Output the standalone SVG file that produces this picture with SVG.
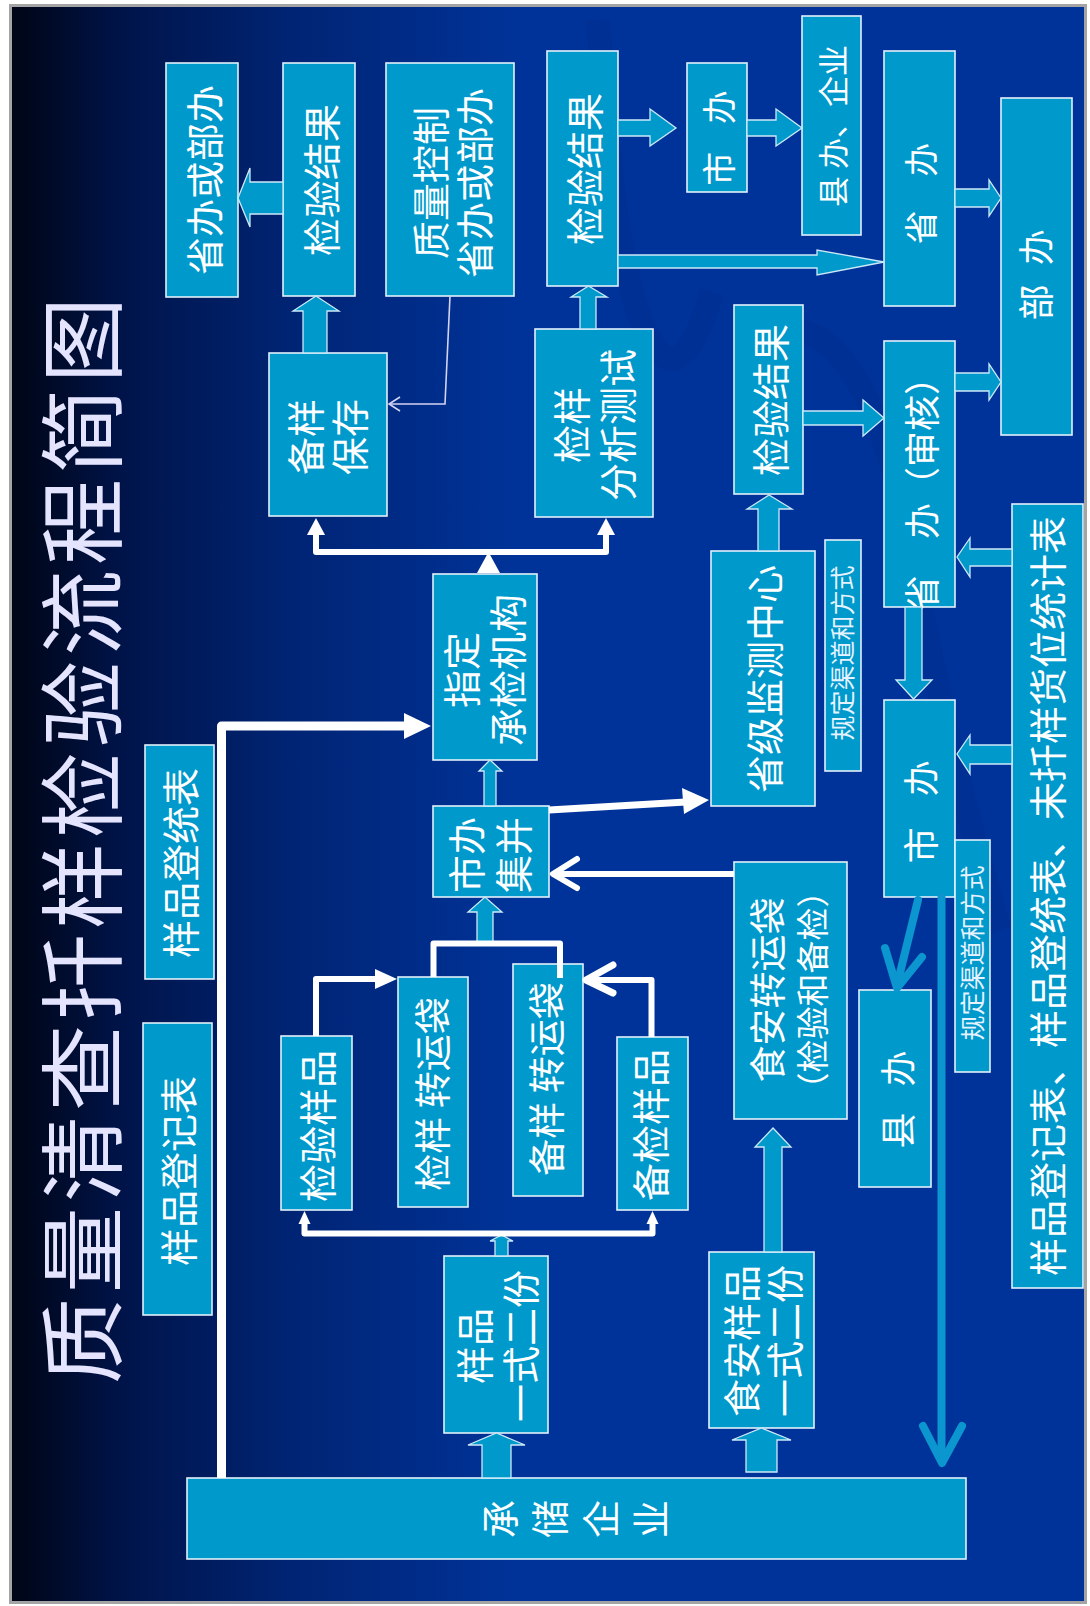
<svg xmlns="http://www.w3.org/2000/svg" width="1090" height="1606" viewBox="0 0 1090 1606">
<defs>
<linearGradient id="bg" gradientUnits="userSpaceOnUse" x1="11" y1="0" x2="520" y2="0">
<stop offset="0" stop-color="#000515"/>
<stop offset="0.22" stop-color="#00144a"/>
<stop offset="0.55" stop-color="#002474"/>
<stop offset="1" stop-color="#003399"/>
</linearGradient>
<style>
.box{fill:#0099cc;stroke:#e2f0fb;stroke-width:1.6}
.ba{fill:#0099cc;stroke:#cde9f7;stroke-width:1.3}
.t{font-family:"Noto Sans CJK SC","Noto Sans CJK JP",sans-serif;fill:#ffffff;text-anchor:middle;dominant-baseline:central;font-size:38px}
.w{fill:none;stroke:#ffffff;stroke-width:6;stroke-linejoin:round}
.wf{fill:#ffffff}
.bl{fill:none;stroke:#0c96cf;stroke-width:8;stroke-linecap:round;stroke-linejoin:round}
</style>
</defs>
<rect x="0" y="0" width="1090" height="1606" fill="#ffffff"/>
<rect x="10.5" y="5.5" width="1075" height="1597" fill="url(#bg)" stroke="#a4a4a4" stroke-width="3"/>
<g id="swoosh" fill="none" stroke="#002a88" stroke-width="24" opacity="0.3">
<path d="M598 20 C 608 170, 622 300, 655 348 C 678 378, 698 340, 712 292"/>
<path d="M790 330 C 840 330, 880 400, 905 520 C 930 660, 960 800, 1000 930"/>
</g>
<g id="title"><text class="t" transform="translate(77 838) rotate(-90)" style="font-size:86px;fill:#e4e4ff" letter-spacing="5">质量清查扦样检验流程简图</text></g>

<g id="n_shengbanhuobuban1"><rect class="box" x="166" y="63" width="72" height="234"/><text class="t" transform="translate(202 180) rotate(-90)">省办或部办</text></g>
<g id="n_jianyanjieguo_a"><rect class="box" x="283" y="63" width="72" height="233"/><text class="t" transform="translate(319 180) rotate(-90)">检验结果</text></g>
<g id="n_zhiliangkongzhi"><rect class="box" x="386" y="63" width="128" height="233"/><text class="t" transform="translate(450 183) rotate(-90)"><tspan x="0" y="-22">质量控制</tspan><tspan x="0" y="22">省办或部办</tspan></text></g>
<g id="n_jianyanjieguo_b"><rect class="box" x="547" y="51" width="71" height="235"/><text class="t" transform="translate(582.5 169) rotate(-90)">检验结果</text></g>
<g id="n_shiban_top"><rect class="box" x="687" y="63" width="60" height="129"/><text class="t" transform="translate(717 133) rotate(-90)" style="font-size:34px" letter-spacing="10">市 办</text></g>
<g id="n_xianban_qiye"><rect class="box" x="802" y="16" width="59" height="219"/><text class="t" transform="translate(831 126) rotate(-90)" style="font-size:31px">县 办、企业</text></g>
<g id="n_shengban_top"><rect class="box" x="884" y="51" width="71" height="255"/><text class="t" transform="translate(919.5 187) rotate(-90)" style="font-size:34px" letter-spacing="13">省 办</text></g>
<g id="n_buban"><rect class="box" x="1001" y="98" width="71" height="337"/><text class="t" transform="translate(1034 272) rotate(-90)" style="font-size:36px" letter-spacing="5.5">部 办</text></g>
<g id="n_jianyanjieguo_c"><rect class="box" x="734" y="305" width="69" height="189"/><text class="t" transform="translate(768.5 400) rotate(-90)">检验结果</text></g>
<g id="n_shengban_shenhe"><rect class="box" x="884" y="341" width="71" height="266"/><text class="t" transform="translate(919.5 485) rotate(-90)" style="font-size:36px">省　办（审核）</text></g>
<g id="n_jianyang_fenxi"><rect class="box" x="535" y="329" width="118" height="188"/><text class="t" transform="translate(592 425) rotate(-90)"><tspan x="0" y="-23">检样</tspan><tspan x="0" y="23">分析测试</tspan></text></g>
<g id="n_beiyang_baocun"><rect class="box" x="269" y="353" width="118" height="163"/><text class="t" transform="translate(325 437) rotate(-90)"><tspan x="0" y="-22">备样</tspan><tspan x="0" y="22">保存</tspan></text></g>
<g id="n_zhiding"><rect class="box" x="433" y="574" width="104" height="186"/><text class="t" transform="translate(482 670) rotate(-90)"><tspan x="0" y="-23">指定</tspan><tspan x="0" y="23">承检机构</tspan></text></g>
<g id="n_shiban_jibing"><rect class="box" x="433" y="806" width="116" height="91"/><text class="t" transform="translate(487 855) rotate(-90)"><tspan x="0" y="-23.5">市办</tspan><tspan x="0" y="23.5">集并</tspan></text></g>
<g id="n_shengji_jiance"><rect class="box" x="711" y="551" width="104" height="255"/><text class="t" transform="translate(762 679) rotate(-90)">省级监测中心</text></g>
<g id="n_guiding1"><rect class="box" x="825" y="540" width="36" height="231"/><text class="t" transform="translate(841 653) rotate(-90)" style="font-size:25px;fill:#e6f2ff">规定渠道和方式</text></g>
<g id="n_shiban_mid"><rect class="box" x="884" y="700" width="71" height="197"/><text class="t" transform="translate(919 806) rotate(-90)" style="font-size:36px" letter-spacing="11.5">市 办</text></g>
<g id="n_xianban"><rect class="box" x="859" y="990" width="72" height="197"/><text class="t" transform="translate(896 1095) rotate(-90)" style="font-size:36px" letter-spacing="9">县 办</text></g>
<g id="n_guiding2"><rect class="box" x="955" y="840" width="35" height="232"/><text class="t" transform="translate(971 953) rotate(-90)" style="font-size:25px;fill:#e6f2ff">规定渠道和方式</text></g>
<g id="n_biao"><rect class="box" x="1012" y="504" width="71" height="784"/><text class="t" transform="translate(1045 896) rotate(-90)">样品登记表、样品登统表、未扦样货位统计表</text></g>
<g id="n_shian_zhuanyundai"><rect class="box" x="734" y="862" width="113" height="257"/><text class="t" transform="translate(788.5 990) rotate(-90)"><tspan x="0" y="-22.5" style="font-size:37px">食安转运袋</tspan><tspan x="0" y="22.5" style="font-size:33px">（检验和备检）</tspan></text></g>
<g id="n_jianyan_yangpin"><rect class="box" x="281" y="1036" width="71" height="174"/><text class="t" transform="translate(315 1126) rotate(-90)">检验样品</text></g>
<g id="n_jianyang_zhuanyundai"><rect class="box" x="398" y="977" width="70" height="230"/><text class="t" transform="translate(431 1094) rotate(-90)" style="font-size:37px">检样 转运袋</text></g>
<g id="n_beiyang_zhuanyundai"><rect class="box" x="513" y="964" width="70" height="232"/><text class="t" transform="translate(545 1079) rotate(-90)" style="font-size:37px">备样 转运袋</text></g>
<g id="n_beijian_yangpin"><rect class="box" x="617" y="1037" width="71" height="173"/><text class="t" transform="translate(648 1125) rotate(-90)">备检样品</text></g>
<g id="n_dengtongbiao"><rect class="box" x="145" y="745" width="69" height="234"/><text class="t" transform="translate(178 863) rotate(-90)">样品登统表</text></g>
<g id="n_dengjibiao"><rect class="box" x="143" y="1023" width="69" height="292"/><text class="t" transform="translate(176 1171) rotate(-90)">样品登记表</text></g>
<g id="n_yangpin_ershi"><rect class="box" x="444" y="1256" width="104" height="177"/><text class="t" transform="translate(494.5 1346) rotate(-90)"><tspan x="0" y="-23">样品</tspan><tspan x="0" y="23">一式二份</tspan></text></g>
<g id="n_shian_yangpin"><rect class="box" x="709" y="1252" width="105" height="176"/><text class="t" transform="translate(760 1341) rotate(-90)"><tspan x="0" y="-21.5">食安样品</tspan><tspan x="0" y="21.5">一式二份</tspan></text></g>
<g id="n_chengchu"><rect class="box" x="187" y="1478" width="779" height="81"/><text class="t" transform="translate(576 1519) rotate(-90)" style="writing-mode:vertical-rl" letter-spacing="2">承 储 企 业</text></g>

<g id="connectors">
<polygon class="ba" points="283,182 250,182 250,168 238,198 250,227 250,214 283,214"/>
<polygon class="ba" points="303,353 303,311 293,311 316,296 339,311 327,311 327,353"/>
<polyline points="450,296 445,404 390,404" fill="none" stroke="#d4d4f4" stroke-width="1.6"/>
<polyline points="400,397 389,404 400,411" fill="none" stroke="#d4d4f4" stroke-width="1.6"/>
<polygon class="ba" points="580,329 580,297 571,297 588.5,286 607,297 596,297 596,329"/>
<polygon class="ba" points="618,120 650,120 650,109 676,128 650,146 650,136 618,136"/>
<polygon class="ba" points="747,120 776,120 776,109 802,128 776,146 776,136 747,136"/>
<polygon class="ba" points="618,255 817,255 817,250 884,262 817,275 817,268 618,268"/>
<polygon class="ba" points="955,189 989,189 989,180 1001,198 989,216 989,207 955,207"/>
<polygon class="ba" points="955,373 989,373 989,364 1001,382 989,400 989,391 955,391"/>
<polygon class="ba" points="803,411 863,411 863,400 884,418 863,436 863,425 803,425"/>
<polygon class="ba" points="758,551 758,509 747,509 769,495 792,509 779,509 779,551"/>
<polygon class="ba" points="1012,549 970,549 970,538 957,557 970,577 970,566 1012,566"/>
<polygon class="ba" points="1012,745 970,745 970,735 957,754 970,774 970,764 1012,764"/>
<polygon class="ba" points="905,607 905,680 896,680 913.5,699 932,680 922,680 922,607"/>
<polygon class="ba" points="484,806 484,771 479,771 490,760 502,771 496,771 496,806"/>
<polygon class="ba" points="482,1478 482,1445 468,1445 496.5,1433 525,1445 511,1445 511,1478"/>
<polygon class="ba" points="495,1256 495,1241 490,1241 501.5,1235 513,1241 508,1241 508,1256"/>
<polygon class="ba" points="477,943 477,912 468,912 485,897 502,912 493,912 493,943"/>
<polygon class="ba" points="764,1252 764,1147 755,1147 773,1128 791,1147 782,1147 782,1252"/>
<polygon class="ba" points="746,1472 746,1440 732,1440 761.5,1428 791,1440 777,1440 777,1472"/>
<polygon class="wf" points="477,573 500,573 488.5,552"/>
<polyline class="w" points="316,534 316,552 606,552 606,534"/>
<polygon class="wf" points="307,535 316,518 325,535"/>
<polygon class="wf" points="597,535 606,518 615,535"/>
<polyline class="w" points="221.5,1478 221.5,726 406,726" style="stroke-width:9"/>
<polygon class="wf" points="404,713 431,726 404,739"/>
<polyline class="w" points="549,810 686,802" style="stroke-width:7"/>
<polygon class="wf" points="682,788 709,800 684,814"/>
<polyline class="w" points="734,874 555,874"/>
<polyline class="w" points="577,859 553,874 577,888" style="stroke-linecap:round"/>
<polyline class="w" points="304.5,1224 304.5,1233.5 652.5,1233.5 652.5,1224"/>
<polygon class="wf" points="298.5,1224 304.5,1211 310.5,1224"/>
<polygon class="wf" points="646.5,1224 652.5,1211 658.5,1224"/>
<polyline class="w" points="316,1036 316,979 377,979"/>
<polygon class="wf" points="375,969 397,979 375,989"/>
<polyline class="w" points="651.5,1037 651.5,980 587,980"/>
<polyline class="w" points="613,965 586,980 613,993" style="stroke-width:7;stroke-linecap:round"/>
<polyline class="w" points="433.5,977 433.5,943.5 560,943.5 560,978"/>
<line class="bl" x1="918" y1="900" x2="897" y2="985"/>
<polyline class="bl" points="885,948 897,988 922,957"/>
<line class="bl" x1="941.5" y1="897" x2="941.5" y2="1460"/>
<polyline class="bl" points="923,1426 942,1463 962,1426"/>
</g>
</svg>
